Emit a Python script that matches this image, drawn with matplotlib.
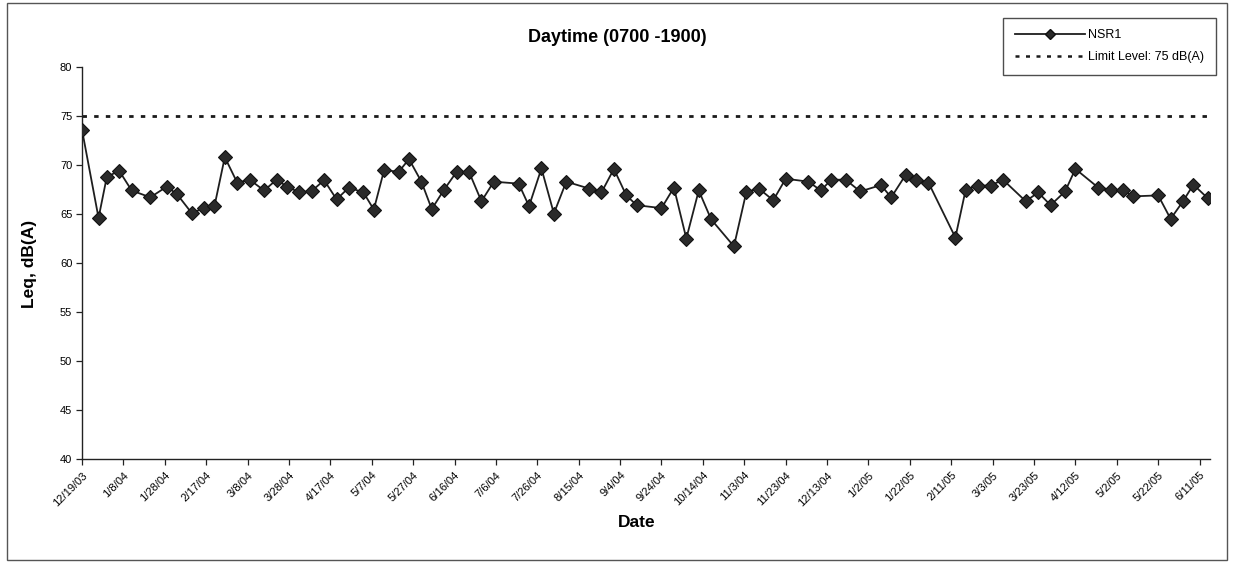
import matplotlib
matplotlib.use("Agg")
import matplotlib.pyplot as plt
import pandas as pd
from matplotlib.lines import Line2D
from matplotlib.patches import Rectangle

plt.rcParams["font.family"] = ["Liberation Sans", "DejaVu Sans"]

TITLE = "Daytime (0700 -1900)"
SERIES_NAME = "NSR1"
LIMIT_NAME = "Limit Level: 75 dB(A)"
LIMIT = 75

DATES = [
    "12/19/03", "12/27/03", "12/31/03", "1/6/04", "1/12/04", "1/21/04", "1/29/04",
    "2/3/04", "2/10/04", "2/16/04", "2/21/04", "2/26/04", "3/3/04", "3/9/04",
    "3/16/04", "3/22/04", "3/27/04", "4/2/04", "4/8/04", "4/14/04", "4/20/04",
    "4/26/04", "5/3/04", "5/8/04", "5/13/04", "5/20/04", "5/25/04", "5/31/04",
    "6/5/04", "6/11/04", "6/17/04", "6/23/04", "6/29/04", "7/5/04", "7/17/04",
    "7/22/04", "7/28/04", "8/3/04", "8/9/04", "8/20/04", "8/26/04", "9/1/04",
    "9/7/04", "9/12/04", "9/24/04", "9/30/04", "10/6/04", "10/12/04", "10/18/04",
    "10/29/04", "11/4/04", "11/10/04", "11/17/04", "11/23/04", "12/4/04",
    "12/10/04", "12/15/04", "12/22/04", "12/29/04", "1/8/05", "1/13/05",
    "1/20/05", "1/25/05", "1/31/05", "2/13/05", "2/18/05", "2/24/05", "3/2/05",
    "3/8/05", "3/19/05", "3/25/05", "3/31/05", "4/7/05", "4/12/05", "4/23/05",
    "4/29/05", "5/5/05", "5/10/05", "5/22/05", "5/28/05", "6/3/05", "6/8/05",
    "6/15/05",
]

LEQ = [
    73.6, 64.6, 68.8, 69.4, 67.4, 66.7, 67.8,
    67.0, 65.1, 65.6, 65.8, 70.8, 68.2, 68.5,
    67.4, 68.5, 67.8, 67.2, 67.35, 68.45, 66.5,
    67.7, 67.2, 65.45, 69.5, 69.3, 70.6, 68.3,
    65.5, 67.5, 69.3, 69.3, 66.3, 68.3, 68.1,
    65.8, 69.65, 65.05, 68.3, 67.6, 67.2, 69.6,
    66.9, 65.9, 65.6, 67.7, 62.5, 67.4, 64.45,
    61.7, 67.25, 67.6, 66.4, 68.6, 68.3,
    67.4, 68.5, 68.5, 67.3, 67.95, 66.7,
    69.0, 68.5, 68.2, 62.6, 67.5, 67.9, 67.9,
    68.5, 66.3, 67.2, 65.9, 67.3, 69.6, 67.7,
    67.5, 67.4, 66.8, 66.9, 64.5, 66.3, 68.0,
    66.6,
]

Y_TICKS = [40, 45, 50, 55, 60, 65, 70, 75, 80]
TICK_START = "12/19/03"
TICK_STEP_DAYS = 20
TICK_COUNT = 28
X_END = "6/16/05"

DOTS = (0, (1.6, 2.6))


def main():
    dates = pd.to_datetime(DATES, format="%m/%d/%y")
    fig = plt.figure(figsize=(12.33, 5.67), dpi=100)
    ax = fig.add_axes([0.0665, 0.1905, 0.9148, 0.6913])

    # outer chart border
    fig.patches.append(
        Rectangle((0.006, 0.012), 0.989, 0.982, transform=fig.transFigure,
                  fill=False, ec="#555555", lw=1.0)
    )

    ax.plot(dates, [LIMIT] * len(dates), color="#1a1a1a", lw=2.0,
            linestyle=DOTS, zorder=2)
    ax.plot(dates, LEQ, color="#1e1e1e", lw=1.3, marker="D", markersize=6.8,
            markerfacecolor="#2a2a2a", markeredgecolor="#111111",
            markeredgewidth=0.8, zorder=3)

    ticks = pd.date_range(pd.to_datetime(TICK_START, format="%m/%d/%y"),
                          periods=TICK_COUNT, freq=f"{TICK_STEP_DAYS}D")
    ax.set_xlim(ticks[0], pd.to_datetime(X_END, format="%m/%d/%y"))
    ax.set_xticks(ticks)
    ax.set_xticklabels([f"{d.month}/{d.day}/{d:%y}" for d in ticks],
                       rotation=45, ha="right", rotation_mode="anchor",
                       fontsize=8)
    ax.set_ylim(40, 80)
    ax.set_yticks(Y_TICKS)
    ax.set_yticklabels([str(v) for v in Y_TICKS], fontsize=8)
    ax.tick_params(axis="both", direction="out", length=4, width=0.9,
                   color="#222222", pad=3)
    ax.tick_params(axis="x", pad=4)

    for side in ("top", "right"):
        ax.spines[side].set_visible(False)
    for side in ("left", "bottom"):
        ax.spines[side].set_color("#222222")
        ax.spines[side].set_linewidth(1.0)

    fig.text(0.501, 0.933, TITLE, ha="center", va="center", fontsize=13,
             fontweight="bold")
    fig.text(0.024, 0.535, "Leq, dB(A)", ha="center", va="center",
             fontsize=12.5, fontweight="bold", rotation=90)
    fig.text(0.516, 0.079, "Date", ha="center", va="center", fontsize=12.5,
             fontweight="bold")

    handles = [
        Line2D([], [], color="#1e1e1e", lw=1.3, marker="D", markersize=5,
               markerfacecolor="#2a2a2a", markeredgecolor="#111111"),
        Line2D([], [], color="#1a1a1a", lw=1.8, linestyle=DOTS),
    ]
    leg = fig.legend(handles, [SERIES_NAME, LIMIT_NAME], loc="upper right",
                     bbox_to_anchor=(0.986, 0.968), fontsize=9,
                     frameon=True, fancybox=False, handlelength=5.6,
                     handletextpad=0.3, borderpad=0.9, labelspacing=0.8,
                     borderaxespad=0)
    leg.get_frame().set_edgecolor("#222222")
    leg.get_frame().set_linewidth(1.0)

    fig.savefig("out.png", dpi=100)


if __name__ == "__main__":
    main()
